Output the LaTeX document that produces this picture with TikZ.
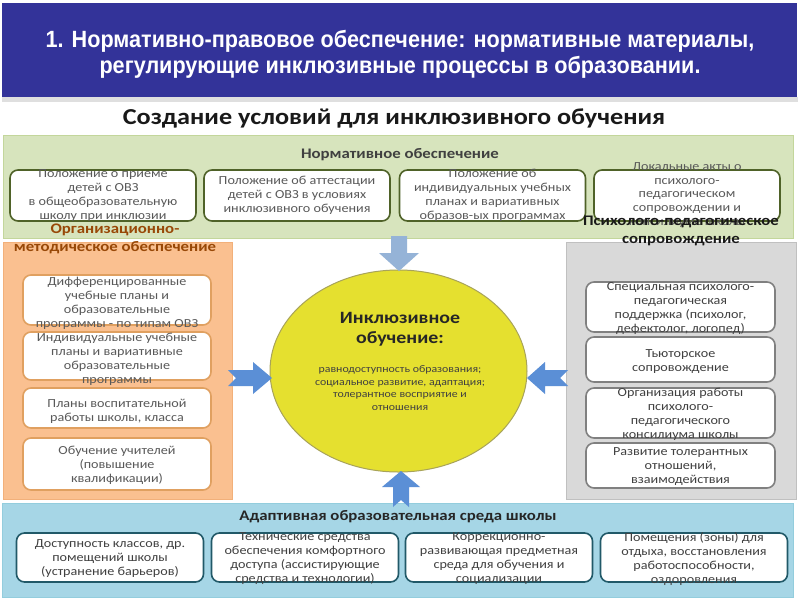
\documentclass[tikz,border=0pt]{standalone}
\usepackage{fontspec}
\setmainfont{Carlito}[FakeStretch=1.15]
\newfontfamily\titlefont{Liberation Sans}[FakeStretch=0.92]
\usetikzlibrary{shapes.geometric}
\definecolor{barblue}{HTML}{333399}
\definecolor{greenfill}{HTML}{D7E4BD}
\definecolor{greenline}{HTML}{C3D69B}
\definecolor{greenbox}{HTML}{4F6228}
\definecolor{orfill}{HTML}{FAC090}
\definecolor{orline}{HTML}{F2B07A}
\definecolor{orbox}{HTML}{E0A060}
\definecolor{ortitle}{HTML}{984807}
\definecolor{gyfill}{HTML}{D9D9D9}
\definecolor{gyline}{HTML}{C0C0C0}
\definecolor{gybox}{HTML}{808080}
\definecolor{blfill}{HTML}{A6D6E6}
\definecolor{blline}{HTML}{93CDDD}
\definecolor{blbox}{HTML}{215968}
\definecolor{ellfill}{HTML}{E5E02F}
\definecolor{ellline}{HTML}{A8A35A}
\definecolor{arlight}{HTML}{95B3D7}
\definecolor{armid}{HTML}{5B8FD6}
\definecolor{txtgray}{HTML}{595959}
\definecolor{txtdark}{HTML}{404040}
\begin{document}
\begin{tikzpicture}[x=1pt,y=-1pt,
  panel/.style={draw, line width=1pt, inner sep=0pt},
  box/.style={draw, fill=white, rounded corners=8pt, line width=1.6pt, inner sep=0pt},
  gbox/.style={box, draw=greenbox, minimum width=186pt, minimum height=51pt},
  obox/.style={box, draw=orbox, minimum width=188pt},
  ybox/.style={box, draw=gybox, minimum width=189pt},
  bbox/.style={box, draw=blbox, minimum width=187pt, minimum height=49pt},
  txt/.style={align=center, inner sep=0pt, text=txtgray, font=\fontsize{12.3}{14}\selectfont},
  dtxt/.style={txt, text=txtdark},
  sect/.style={align=center, inner sep=0pt, font=\bfseries\fontsize{14.6}{17.5}\selectfont}
]
\useasboundingbox (0,0) rectangle (800,600);
\fill[white] (0,0) rectangle (800,600);

% title bar
\fill[gray!25] (2,97) rectangle (798,102);
\node[fill=barblue, minimum width=795pt, minimum height=94pt, inner sep=0pt] (bar) at (399.5,50) {};
\node[align=center, inner sep=0pt, text=white, font=\titlefont\bfseries\fontsize{23.5}{26}\selectfont] (title) at (400,54)
  {1. Нормативно-правовое обеспечение: нормативные материалы,\\регулирующие инклюзивные процессы в образовании.};

\node[inner sep=0pt, text=black!90, font=\bfseries\fontsize{22.8}{26}\selectfont] (main) at (394,118) {Создание условий для инклюзивного обучения};

% green panel
\node[panel, fill=greenfill, draw=greenline, minimum width=790pt, minimum height=103pt] (green) at (398.5,186.5) {};
\node[sect, text=txtdark] (greent) at (400,155) {Нормативное обеспечение};
\node[gbox] (g1) at (103,195.5) {};
\node[gbox] (g2) at (297,195.5) {};
\node[gbox] (g3) at (492.5,195.5) {};
\node[gbox] (g4) at (687,195.5) {};
\node[txt] (g1t) at (g1) {Положение о приеме\\детей с ОВЗ\\в общеобразовательную\\школу  при инклюзии};
\node[txt] (g2t) at (g2) {Положение об аттестации\\детей с ОВЗ в условиях\\инклюзивного обучения};
\node[txt] (g3t) at (g3) {Положение об\\индивидуальных учебных\\планах и вариативных\\образов-ых программах};
\node[txt, font=\fontsize{12.3}{13.6}\selectfont] (g4t) at (687,195) {Локальные акты о\\психолого-\\педагогическом\\сопровождении и\\консилиуме школы};

% orange panel
\node[panel, fill=orfill, draw=orline, minimum width=229pt, minimum height=257pt] (orange) at (117.5,370.5) {};
\node[sect, text=ortitle] (oranget) at (115,239) {Организационно-\\методическое обеспечение};
\node[obox, minimum height=50pt] (o1) at (117,300) {};
\node[obox, minimum height=48pt] (o2) at (117,356) {};
\node[obox, minimum height=40pt] (o3) at (117,408) {};
\node[obox, minimum height=52pt] (o4) at (117,464) {};
\node[txt] (o1t) at (117,303.5) {Дифференцированные\\учебные планы и\\образовательные\\программы - по типам ОВЗ};
\node[txt] (o2t) at (117,359) {Индивидуальные учебные\\планы и вариативные\\образовательные\\программы};
\node[txt] (o3t) at (117,411) {Планы воспитательной\\работы школы, класса};
\node[txt] (o4t) at (117,465) {Обучение учителей\\(повышение\\квалификации)};

% grey panel
\node[panel, fill=gyfill, draw=gyline, minimum width=230pt, minimum height=257pt] (grey) at (681,370.5) {};
\node[sect, text=black!90] (greyt) at (681,231) {Психолого-педагогическое\\сопровождение};
\node[ybox, minimum height=50pt] (y1) at (680.5,307) {};
\node[ybox, minimum height=45pt] (y2) at (680.5,359.5) {};
\node[ybox, minimum height=50pt] (y3) at (680.5,413) {};
\node[ybox, minimum height=45pt] (y4) at (680.5,465.5) {};
\node[dtxt] (y1t) at (680.5,309) {Специальная психолого-\\педагогическая\\поддержка (психолог,\\дефектолог, логопед)};
\node[dtxt] (y2t) at (680.5,361.5) {Тьюторское\\сопровождение};
\node[dtxt] (y3t) at (680.5,414.5) {Организация работы\\психолого-\\педагогического\\консилиума школы};
\node[dtxt] (y4t) at (680.5,466.5) {Развитие толерантных\\отношений,\\взаимодействия};

% blue panel
\node[panel, fill=blfill, draw=blline, minimum width=791pt, minimum height=94pt] (blue) at (398,550) {};
\node[sect, text=black!85] (bluet) at (398,517) {Адаптивная образовательная среда школы};
\node[bbox] (b1) at (110,557.5) {};
\node[bbox] (b2) at (305,557.5) {};
\node[bbox] (b3) at (499,557.5) {};
\node[bbox] (b4) at (694,557.5) {};
\node[dtxt] (b1t) at (110,559) {Доступность классов, др.\\помещений школы\\(устранение барьеров)};
\node[dtxt] (b2t) at (305,559) {Технические средства\\обеспечения комфортного\\доступа (ассистирующие\\средства и технологии)};
\node[dtxt] (b3t) at (499,559) {Коррекционно-\\развивающая предметная\\среда для обучения и\\социализации};
\node[dtxt] (b4t) at (694,559) {Помещения (зоны) для\\отдыха, восстановления\\работоспособности,\\оздоровления};

% ellipse
\node[ellipse, draw=ellline, fill=ellfill, line width=1pt, minimum width=257pt, minimum height=202pt, inner sep=0pt] (ell) at (398.5,371) {};
\node[align=center, inner sep=0pt, text=black!85, font=\bfseries\fontsize{17.3}{19.5}\selectfont] (ellt) at (400,329) {Инклюзивное\\обучение:};
\node[align=center, inner sep=0pt, text=txtdark, font=\fontsize{10.3}{12.5}\selectfont] (ells) at (400,388) {равнодоступность образования;\\социальное развитие, адаптация;\\толерантное восприятие и\\отношения};

% block arrows
\fill[arlight] (391,236) -- (407,236) -- (407,253) -- (419,253) -- (399,271) -- (379,253) -- (391,253) -- cycle;
\fill[armid] (228,370) -- (253,370) -- (253,362) -- (272,378) -- (253,394) -- (253,386) -- (228,386) -- (236,378) -- cycle;
\fill[armid] (568,370) -- (545,370) -- (545,362) -- (527,378) -- (545,394) -- (545,386) -- (568,386) -- (560,378) -- cycle;
\fill[armid] (393,507) -- (393,487) -- (382,487) -- (401,471) -- (420,487) -- (409,487) -- (409,507) -- (401,500) -- cycle;
\end{tikzpicture}
\end{document}
